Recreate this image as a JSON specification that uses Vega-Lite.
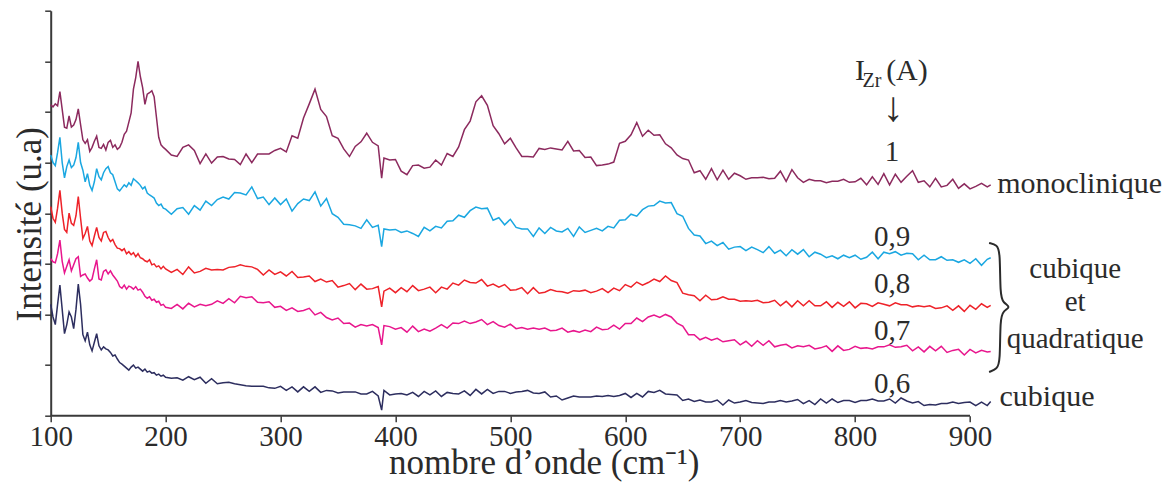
{
"$schema":"https://vega.github.io/schema/vega-lite/v6.json",
"width":940,"height":405,"autosize":"none",
"padding":{"left":50.7,"top":10.7,"right":177.3,"bottom":72.3},
"background":"white",
"config":{"view":{"stroke":null},"font":"Liberation Serif"},
"datasets":{
"spectra":[
{"x":100,"a":6.14,"b":5.15,"c":4.13,"d":3.10,"e":2.20},
{"x":102,"a":6.10,"b":5.00,"c":3.90,"d":3.04,"e":1.95},
{"x":104,"a":6.16,"b":4.94,"c":3.82,"d":3.02,"e":1.80},
{"x":106,"a":6.12,"b":5.20,"c":4.10,"d":3.20,"e":2.20},
{"x":108,"a":6.40,"b":5.50,"c":4.45,"d":3.47,"e":2.58},
{"x":110,"a":6.05,"b":5.00,"c":4.00,"d":3.05,"e":2.10},
{"x":112,"a":5.70,"b":4.70,"c":3.68,"d":2.82,"e":1.62},
{"x":114,"a":5.68,"b":4.92,"c":3.62,"d":2.95,"e":1.80},
{"x":116,"a":5.92,"b":5.05,"c":4.00,"d":3.08,"e":2.05},
{"x":118,"a":5.70,"b":4.90,"c":3.80,"d":2.86,"e":1.95},
{"x":120,"a":5.74,"b":4.95,"c":3.76,"d":2.98,"e":1.72},
{"x":122,"a":5.85,"b":5.10,"c":3.95,"d":3.10,"e":2.10},
{"x":124,"a":6.06,"b":5.40,"c":4.33,"d":3.14,"e":2.60},
{"x":126,"a":5.75,"b":5.00,"c":3.90,"d":2.75,"e":2.20},
{"x":128,"a":5.45,"b":4.85,"c":3.50,"d":2.78,"e":1.60},
{"x":130,"a":5.38,"b":4.62,"c":3.60,"d":2.80,"e":1.48},
{"x":132,"a":5.45,"b":4.78,"c":3.74,"d":2.72,"e":1.65},
{"x":134,"a":5.22,"b":4.55,"c":3.45,"d":2.66,"e":1.40},
{"x":136,"a":5.30,"b":4.45,"c":3.36,"d":2.70,"e":1.28},
{"x":138,"a":5.42,"b":4.62,"c":3.55,"d":2.90,"e":1.45},
{"x":140,"a":5.52,"b":4.88,"c":3.72,"d":3.08,"e":1.62},
{"x":142,"a":5.30,"b":4.72,"c":3.52,"d":2.70,"e":1.38},
{"x":144,"a":5.28,"b":4.66,"c":3.45,"d":2.68,"e":1.30},
{"x":146,"a":5.36,"b":4.80,"c":3.62,"d":2.85,"e":1.36},
{"x":148,"a":5.25,"b":4.88,"c":3.64,"d":2.88,"e":1.32},
{"x":150,"a":5.40,"b":4.92,"c":3.52,"d":2.80,"e":1.30},
{"x":152,"a":5.44,"b":4.80,"c":3.44,"d":2.86,"e":1.25},
{"x":154,"a":5.30,"b":4.76,"c":3.48,"d":2.78,"e":1.18},
{"x":156,"a":5.35,"b":4.62,"c":3.38,"d":2.72,"e":1.20},
{"x":158,"a":5.26,"b":4.48,"c":3.31,"d":2.66,"e":1.12},
{"x":160,"a":5.30,"b":4.44,"c":3.30,"d":2.55,"e":1.05},
{"x":162,"a":5.40,"b":4.50,"c":3.26,"d":2.52,"e":1.02},
{"x":164,"a":5.56,"b":4.56,"c":3.30,"d":2.58,"e":0.98},
{"x":166,"a":5.62,"b":4.52,"c":3.20,"d":2.50,"e":0.94},
{"x":168,"a":5.80,"b":4.60,"c":3.24,"d":2.56,"e":0.90},
{"x":170,"a":5.98,"b":4.55,"c":3.18,"d":2.54,"e":0.96},
{"x":172,"a":6.45,"b":4.68,"c":3.22,"d":2.50,"e":1.00},
{"x":174,"a":6.68,"b":4.64,"c":3.14,"d":2.55,"e":0.94},
{"x":176,"a":7.00,"b":4.60,"c":3.20,"d":2.48,"e":0.96},
{"x":178,"a":6.70,"b":4.55,"c":3.12,"d":2.50,"e":0.92},
{"x":180,"a":6.48,"b":4.48,"c":3.10,"d":2.44,"e":0.88},
{"x":182,"a":6.15,"b":4.52,"c":3.06,"d":2.36,"e":0.92},
{"x":184,"a":6.35,"b":4.40,"c":3.04,"d":2.32,"e":0.86},
{"x":186,"a":6.38,"b":4.36,"c":3.08,"d":2.35,"e":0.88},
{"x":188,"a":6.42,"b":4.33,"c":2.98,"d":2.28,"e":0.84},
{"x":190,"a":6.30,"b":4.30,"c":3.00,"d":2.30,"e":0.85},
{"x":192,"a":5.90,"b":4.20,"c":2.94,"d":2.24,"e":0.80},
{"x":194,"a":5.50,"b":4.15,"c":2.96,"d":2.26,"e":0.82},
{"x":196,"a":5.35,"b":4.18,"c":2.90,"d":2.18,"e":0.78},
{"x":198,"a":5.30,"b":4.10,"c":2.95,"d":2.20,"e":0.80},
{"x":200,"a":5.26,"b":4.08,"c":2.90,"d":2.14,"e":0.76},
{"x":205,"a":5.15,"b":3.98,"c":2.83,"d":2.12,"e":0.74},
{"x":210,"a":5.12,"b":4.09,"c":2.89,"d":2.20,"e":0.75},
{"x":215,"a":5.30,"b":4.11,"c":2.79,"d":2.11,"e":0.70},
{"x":220,"a":5.35,"b":3.98,"c":2.94,"d":2.22,"e":0.77},
{"x":225,"a":5.24,"b":4.15,"c":2.82,"d":2.15,"e":0.71},
{"x":230,"a":4.98,"b":4.06,"c":2.85,"d":2.20,"e":0.76},
{"x":235,"a":5.17,"b":4.24,"c":2.91,"d":2.17,"e":0.64},
{"x":240,"a":4.99,"b":4.15,"c":2.88,"d":2.20,"e":0.73},
{"x":245,"a":5.11,"b":4.27,"c":2.89,"d":2.27,"e":0.63},
{"x":250,"a":5.12,"b":4.32,"c":2.88,"d":2.22,"e":0.65},
{"x":255,"a":5.07,"b":4.28,"c":2.93,"d":2.31,"e":0.66},
{"x":260,"a":5.06,"b":4.41,"c":2.94,"d":2.23,"e":0.63},
{"x":265,"a":4.96,"b":4.40,"c":2.98,"d":2.36,"e":0.61},
{"x":270,"a":5.17,"b":4.36,"c":2.95,"d":2.33,"e":0.59},
{"x":275,"a":5.00,"b":4.52,"c":2.94,"d":2.35,"e":0.58},
{"x":280,"a":5.17,"b":4.29,"c":2.89,"d":2.24,"e":0.58},
{"x":285,"a":5.17,"b":4.32,"c":2.78,"d":2.23,"e":0.58},
{"x":290,"a":5.17,"b":4.17,"c":2.88,"d":2.25,"e":0.55},
{"x":295,"a":5.24,"b":4.30,"c":2.79,"d":2.14,"e":0.54},
{"x":300,"a":5.28,"b":4.17,"c":2.84,"d":2.16,"e":0.58},
{"x":305,"a":5.21,"b":4.28,"c":2.76,"d":2.08,"e":0.50},
{"x":310,"a":5.53,"b":4.04,"c":2.85,"d":2.13,"e":0.57},
{"x":315,"a":5.48,"b":4.19,"c":2.73,"d":2.06,"e":0.47},
{"x":320,"a":5.88,"b":4.28,"c":2.74,"d":2.08,"e":0.57},
{"x":325,"a":6.16,"b":4.25,"c":2.76,"d":2.12,"e":0.48},
{"x":330,"a":6.45,"b":4.42,"c":2.65,"d":1.99,"e":0.57},
{"x":335,"a":6.05,"b":4.14,"c":2.70,"d":2.04,"e":0.46},
{"x":340,"a":5.91,"b":4.29,"c":2.64,"d":1.94,"e":0.50},
{"x":345,"a":5.53,"b":3.99,"c":2.67,"d":1.89,"e":0.49},
{"x":350,"a":5.48,"b":3.92,"c":2.54,"d":1.93,"e":0.45},
{"x":355,"a":5.27,"b":3.78,"c":2.57,"d":1.82,"e":0.47},
{"x":360,"a":5.12,"b":3.77,"c":2.61,"d":1.83,"e":0.47},
{"x":365,"a":5.32,"b":3.75,"c":2.49,"d":1.75,"e":0.47},
{"x":370,"a":5.41,"b":3.70,"c":2.60,"d":1.80,"e":0.43},
{"x":375,"a":5.58,"b":3.87,"c":2.50,"d":1.77,"e":0.43},
{"x":380,"a":5.40,"b":3.72,"c":2.51,"d":1.80,"e":0.48},
{"x":385,"a":5.33,"b":3.76,"c":2.55,"d":1.74,"e":0.39},
{"x":388,"a":4.69,"b":3.34,"c":2.15,"d":1.40,"e":0.11},
{"x":390,"a":5.09,"b":3.69,"c":2.46,"d":1.78,"e":0.50},
{"x":395,"a":5.05,"b":3.67,"c":2.52,"d":1.76,"e":0.41},
{"x":400,"a":5.06,"b":3.68,"c":2.43,"d":1.71,"e":0.43},
{"x":405,"a":4.83,"b":3.62,"c":2.53,"d":1.74,"e":0.44},
{"x":410,"a":4.76,"b":3.65,"c":2.45,"d":1.65,"e":0.41},
{"x":415,"a":4.94,"b":3.60,"c":2.57,"d":1.77,"e":0.46},
{"x":420,"a":4.95,"b":3.54,"c":2.47,"d":1.66,"e":0.38},
{"x":425,"a":4.89,"b":3.72,"c":2.50,"d":1.71,"e":0.48},
{"x":430,"a":4.91,"b":3.65,"c":2.54,"d":1.67,"e":0.41},
{"x":435,"a":5.05,"b":3.74,"c":2.43,"d":1.73,"e":0.49},
{"x":440,"a":4.95,"b":3.71,"c":2.54,"d":1.80,"e":0.38},
{"x":445,"a":5.18,"b":3.84,"c":2.50,"d":1.73,"e":0.46},
{"x":450,"a":5.12,"b":3.85,"c":2.62,"d":1.83,"e":0.44},
{"x":455,"a":5.31,"b":3.96,"c":2.58,"d":1.82,"e":0.43},
{"x":460,"a":5.65,"b":3.92,"c":2.68,"d":1.87,"e":0.49},
{"x":465,"a":5.82,"b":4.05,"c":2.63,"d":1.82,"e":0.40},
{"x":470,"a":6.20,"b":4.12,"c":2.62,"d":1.85,"e":0.52},
{"x":475,"a":6.32,"b":4.09,"c":2.69,"d":1.90,"e":0.43},
{"x":480,"a":6.13,"b":4.10,"c":2.56,"d":1.80,"e":0.52},
{"x":485,"a":5.73,"b":3.86,"c":2.60,"d":1.86,"e":0.44},
{"x":490,"a":5.57,"b":3.91,"c":2.54,"d":1.78,"e":0.48},
{"x":495,"a":5.37,"b":3.77,"c":2.59,"d":1.75,"e":0.48},
{"x":500,"a":5.48,"b":3.88,"c":2.48,"d":1.81,"e":0.44},
{"x":505,"a":5.29,"b":3.72,"c":2.49,"d":1.72,"e":0.47},
{"x":510,"a":5.12,"b":3.69,"c":2.53,"d":1.74,"e":0.48},
{"x":515,"a":5.12,"b":3.69,"c":2.41,"d":1.71,"e":0.50},
{"x":520,"a":5.11,"b":3.54,"c":2.53,"d":1.73,"e":0.45},
{"x":525,"a":5.28,"b":3.71,"c":2.42,"d":1.71,"e":0.44},
{"x":530,"a":5.26,"b":3.60,"c":2.44,"d":1.73,"e":0.47},
{"x":535,"a":5.29,"b":3.72,"c":2.49,"d":1.68,"e":0.37},
{"x":540,"a":5.27,"b":3.65,"c":2.46,"d":1.69,"e":0.39},
{"x":545,"a":5.25,"b":3.63,"c":2.45,"d":1.73,"e":0.31},
{"x":550,"a":5.42,"b":3.70,"c":2.42,"d":1.65,"e":0.35},
{"x":555,"a":5.23,"b":3.54,"c":2.47,"d":1.68,"e":0.39},
{"x":560,"a":5.24,"b":3.73,"c":2.46,"d":1.65,"e":0.37},
{"x":565,"a":5.10,"b":3.62,"c":2.48,"d":1.69,"e":0.37},
{"x":570,"a":5.11,"b":3.66,"c":2.43,"d":1.66,"e":0.37},
{"x":575,"a":4.94,"b":3.70,"c":2.46,"d":1.75,"e":0.39},
{"x":580,"a":4.95,"b":3.65,"c":2.51,"d":1.70,"e":0.38},
{"x":585,"a":4.97,"b":3.74,"c":2.43,"d":1.71,"e":0.40},
{"x":590,"a":5.01,"b":3.71,"c":2.52,"d":1.79,"e":0.38},
{"x":595,"a":5.38,"b":3.86,"c":2.47,"d":1.71,"e":0.40},
{"x":600,"a":5.42,"b":3.87,"c":2.59,"d":1.82,"e":0.44},
{"x":605,"a":5.55,"b":3.98,"c":2.54,"d":1.82,"e":0.36},
{"x":610,"a":5.79,"b":3.94,"c":2.64,"d":1.93,"e":0.44},
{"x":615,"a":5.52,"b":4.07,"c":2.58,"d":1.86,"e":0.37},
{"x":620,"a":5.64,"b":4.14,"c":2.63,"d":1.95,"e":0.48},
{"x":625,"a":5.54,"b":4.15,"c":2.70,"d":1.99,"e":0.46},
{"x":630,"a":5.55,"b":4.24,"c":2.65,"d":1.94,"e":0.50},
{"x":635,"a":5.37,"b":4.20,"c":2.76,"d":2.00,"e":0.43},
{"x":640,"a":5.29,"b":4.21,"c":2.67,"d":1.95,"e":0.42},
{"x":645,"a":5.15,"b":3.99,"c":2.63,"d":1.83,"e":0.41},
{"x":650,"a":5.08,"b":3.94,"c":2.42,"d":1.77,"e":0.30},
{"x":655,"a":5.05,"b":3.70,"c":2.39,"d":1.60,"e":0.33},
{"x":660,"a":4.80,"b":3.57,"c":2.37,"d":1.60,"e":0.28},
{"x":665,"a":4.84,"b":3.55,"c":2.27,"d":1.50,"e":0.31},
{"x":670,"a":4.67,"b":3.40,"c":2.38,"d":1.55,"e":0.27},
{"x":675,"a":4.88,"b":3.45,"c":2.29,"d":1.49,"e":0.27},
{"x":680,"a":4.66,"b":3.36,"c":2.30,"d":1.53,"e":0.31},
{"x":685,"a":4.85,"b":3.42,"c":2.35,"d":1.46,"e":0.21},
{"x":690,"a":4.67,"b":3.29,"c":2.30,"d":1.48,"e":0.31},
{"x":695,"a":4.79,"b":3.33,"c":2.30,"d":1.50,"e":0.25},
{"x":700,"a":4.74,"b":3.34,"c":2.26,"d":1.40,"e":0.27},
{"x":705,"a":4.67,"b":3.26,"c":2.27,"d":1.47,"e":0.30},
{"x":710,"a":4.70,"b":3.33,"c":2.26,"d":1.37,"e":0.26},
{"x":715,"a":4.70,"b":3.28,"c":2.28,"d":1.48,"e":0.25},
{"x":720,"a":4.71,"b":3.22,"c":2.23,"d":1.39,"e":0.24},
{"x":725,"a":4.68,"b":3.34,"c":2.24,"d":1.48,"e":0.27},
{"x":730,"a":4.69,"b":3.21,"c":2.28,"d":1.36,"e":0.27},
{"x":735,"a":4.83,"b":3.27,"c":2.17,"d":1.39,"e":0.30},
{"x":740,"a":4.63,"b":3.16,"c":2.26,"d":1.41,"e":0.27},
{"x":745,"a":4.86,"b":3.28,"c":2.15,"d":1.34,"e":0.29},
{"x":750,"a":4.70,"b":3.19,"c":2.27,"d":1.38,"e":0.32},
{"x":755,"a":4.61,"b":3.28,"c":2.17,"d":1.36,"e":0.24},
{"x":760,"a":4.67,"b":3.14,"c":2.27,"d":1.39,"e":0.30},
{"x":765,"a":4.64,"b":3.23,"c":2.17,"d":1.32,"e":0.22},
{"x":770,"a":4.64,"b":3.19,"c":2.17,"d":1.34,"e":0.33},
{"x":775,"a":4.60,"b":3.12,"c":2.25,"d":1.38,"e":0.25},
{"x":780,"a":4.63,"b":3.16,"c":2.14,"d":1.27,"e":0.33},
{"x":785,"a":4.63,"b":3.10,"c":2.24,"d":1.38,"e":0.26},
{"x":790,"a":4.67,"b":3.17,"c":2.16,"d":1.29,"e":0.30},
{"x":795,"a":4.61,"b":3.12,"c":2.25,"d":1.31,"e":0.30},
{"x":800,"a":4.62,"b":3.17,"c":2.13,"d":1.37,"e":0.26},
{"x":805,"a":4.69,"b":3.09,"c":2.22,"d":1.33,"e":0.30},
{"x":810,"a":4.56,"b":3.13,"c":2.21,"d":1.34,"e":0.30},
{"x":815,"a":4.72,"b":3.23,"c":2.16,"d":1.32,"e":0.33},
{"x":820,"a":4.57,"b":3.10,"c":2.23,"d":1.36,"e":0.29},
{"x":825,"a":4.78,"b":3.23,"c":2.20,"d":1.36,"e":0.29},
{"x":830,"a":4.56,"b":3.20,"c":2.17,"d":1.40,"e":0.33},
{"x":835,"a":4.77,"b":3.24,"c":2.23,"d":1.35,"e":0.25},
{"x":840,"a":4.61,"b":3.17,"c":2.19,"d":1.36,"e":0.35},
{"x":845,"a":4.73,"b":3.21,"c":2.19,"d":1.39,"e":0.29},
{"x":850,"a":4.84,"b":3.20,"c":2.15,"d":1.28,"e":0.25},
{"x":855,"a":4.61,"b":3.08,"c":2.17,"d":1.36,"e":0.28},
{"x":860,"a":4.64,"b":3.17,"c":2.15,"d":1.26,"e":0.20},
{"x":865,"a":4.52,"b":3.08,"c":2.17,"d":1.37,"e":0.22},
{"x":870,"a":4.69,"b":3.08,"c":2.12,"d":1.28,"e":0.21},
{"x":875,"a":4.52,"b":3.14,"c":2.13,"d":1.37,"e":0.24},
{"x":880,"a":4.55,"b":3.07,"c":2.17,"d":1.25,"e":0.24},
{"x":885,"a":4.67,"b":3.08,"c":2.08,"d":1.29,"e":0.27},
{"x":890,"a":4.49,"b":3.03,"c":2.17,"d":1.31,"e":0.24},
{"x":895,"a":4.58,"b":3.08,"c":2.06,"d":1.20,"e":0.26},
{"x":900,"a":4.48,"b":3.01,"c":2.18,"d":1.31,"e":0.27},
{"x":905,"a":4.53,"b":3.10,"c":2.10,"d":1.24,"e":0.20},
{"x":910,"a":4.59,"b":2.97,"c":2.21,"d":1.29,"e":0.27},
{"x":915,"a":4.52,"b":3.09,"c":2.14,"d":1.26,"e":0.20},
{"x":918,"a":4.56,"b":3.12,"c":2.18,"d":1.27,"e":0.28}
],
"centered":[
{"x":832.2,"y":5.024,"t":"1"},
{"x":832.2,"y":3.354,"t":"0,9"},
{"x":832.2,"y":2.425,"t":"0,8"},
{"x":832.2,"y":1.494,"t":"0,7"},
{"x":832.2,"y":0.449,"t":"0,6"},
{"x":991.5,"y":2.721,"t":"cubique"},
{"x":991.5,"y":2.059,"t":"et"},
{"x":991.5,"y":1.338,"t":"quadratique"}
],
"lefttext":[
{"x":800,"y":6.634,"t":"I"},
{"x":827,"y":6.634,"t":"(A)"},
{"x":923.6,"y":4.401,"t":"monoclinique"},
{"x":925.7,"y":0.192,"t":"cubique"}
],
"sub":[{"x":806.5,"y":6.496,"t":"Zr"}],
"arrow":[{"x":833,"y":6.081,"t":"↓"}],
"brace":[
{"o":1,"x":916.6,"y":3.413},
{"o":2,"x":923.6,"y":3.374},
{"o":3,"x":926.2,"y":3.235},
{"o":4,"x":926.2,"y":2.385},
{"o":5,"x":928.8,"y":2.227},
{"o":6,"x":935.8,"y":2.148},
{"o":7,"x":928.8,"y":2.069},
{"o":8,"x":926.2,"y":1.911},
{"o":9,"x":926.2,"y":1.061},
{"o":10,"x":923.6,"y":0.923},
{"o":11,"x":916.6,"y":0.864}
],
"xaxis":[{"x":100,"x2":900,"y":0}]
},
"encoding":{
"x":{"field":"x","type":"quantitative","scale":{"domain":[100,918],"nice":false,"zero":false},
 "axis":{"values":[100,200,300,400,500,600,700,800,900],"domain":false,"grid":false,"tickColor":"#3a3a3a","tickWidth":1.5,"tickSize":6,
  "labelFont":"Liberation Serif","labelFontSize":29,"labelColor":"#2b2b2b","labelPadding":1,"labelFlush":false,"labelOverlap":false,
  "title":"nombre d’onde (cm⁻¹)","titleFont":"Liberation Serif","titleFontSize":35,"titleFontWeight":"normal","titleColor":"#2b2b2b",
  "titleX":493,"titleY":58,"titleAlign":"center","titleBaseline":"alphabetic"}},
"y":{"field":"y","type":"quantitative","scale":{"domain":[0,8],"nice":false,"zero":false},
 "axis":{"values":[0,1,2,3,4,5,6,7,8],"labels":false,"grid":false,"domainColor":"#3a3a3a","domainWidth":2,"tickColor":"#3a3a3a","tickWidth":1.5,"tickSize":6,
  "title":"Intensité (u.a)","titleFont":"Liberation Serif","titleFontSize":35,"titleFontWeight":"normal","titleColor":"#2b2b2b",
  "titleX":-10,"titleY":213,"titleAngle":270,"titleAlign":"center","titleBaseline":"alphabetic"}}
},
"layer":[
{"data":{"name":"xaxis"},"mark":{"type":"rule","color":"#3a3a3a","strokeWidth":2},"encoding":{"x2":{"field":"x2"}}},
{"data":{"name":"spectra"},"transform":[{"fold":["a","b","c","d","e"],"as":["s","y"]}],
 "mark":{"type":"line","strokeWidth":1.5},
 "encoding":{"color":{"field":"s","type":"nominal","scale":{"domain":["a","b","c","d","e"],"range":["#8C2A5E","#1AA7E1","#EE2229","#E8168D","#2D2E5F"]},"legend":null}}},
{"data":{"name":"centered"},"mark":{"type":"text","font":"Liberation Serif","fontSize":29,"color":"#2b2b2b","align":"center","baseline":"alphabetic"},"encoding":{"text":{"field":"t"}}},
{"data":{"name":"lefttext"},"mark":{"type":"text","font":"Liberation Serif","fontSize":30,"color":"#2b2b2b","align":"left","baseline":"alphabetic"},"encoding":{"text":{"field":"t"}}},
{"data":{"name":"sub"},"mark":{"type":"text","font":"Liberation Serif","fontSize":20,"color":"#2b2b2b","align":"left","baseline":"alphabetic"},"encoding":{"text":{"field":"t"}}},
{"data":{"name":"arrow"},"mark":{"type":"text","font":"Liberation Serif","fontSize":42,"color":"#2b2b2b","align":"center","baseline":"middle"},"encoding":{"text":{"field":"t"}}},
{"data":{"name":"brace"},"mark":{"type":"line","color":"#2b2b2b","strokeWidth":2,"interpolate":"basis"},"encoding":{"order":{"field":"o","type":"quantitative"}}}
]
}
